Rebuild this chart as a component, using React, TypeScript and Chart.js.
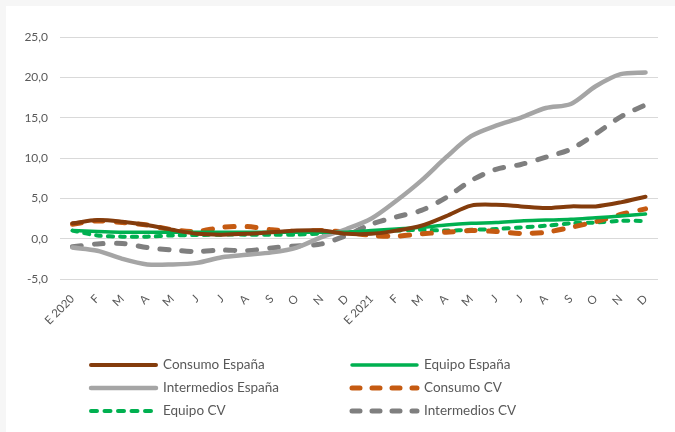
import React, { useEffect, useRef } from "react";
import { Chart, registerables } from "chart.js";

Chart.register(...registerables);

const categories = [
  "E 2020", "F", "M", "A", "M", "J", "J", "A", "S", "O", "N", "D",
  "E 2021", "F", "M", "A", "M", "J", "J", "A", "S", "O", "N", "D",
];

const consumoEspana = [1.9, 2.3, 2.1, 1.7, 1.1, 0.6, 0.5, 0.6, 0.8, 1.0, 1.0, 0.6, 0.6, 1.0, 1.6, 2.8, 4.1, 4.2, 4.0, 3.8, 4.0, 4.0, 4.5, 5.2];
const equipoEspana = [1.0, 0.9, 0.8, 0.8, 0.8, 0.8, 0.8, 0.8, 0.8, 0.8, 0.8, 0.8, 1.0, 1.2, 1.4, 1.7, 1.9, 2.0, 2.2, 2.3, 2.4, 2.6, 2.8, 3.05];
const intermediosEspana = [-1.1, -1.5, -2.5, -3.2, -3.2, -3.0, -2.3, -2.0, -1.7, -1.1, 0.2, 1.2, 2.5, 4.7, 7.2, 10.1, 12.7, 14.0, 15.0, 16.2, 16.7, 18.9, 20.4, 20.6];
const consumoCV = [1.8, 2.2, 2.0, 1.7, 1.1, 0.9, 1.4, 1.5, 1.1, 0.9, 1.0, 0.8, 0.4, 0.3, 0.6, 0.8, 1.0, 0.9, 0.65, 0.8, 1.4, 2.1, 3.0, 3.7];
const equipoCV = [1.0, 0.4, 0.25, 0.25, 0.4, 0.45, 0.5, 0.5, 0.5, 0.5, 0.65, 0.8, 0.9, 1.0, 1.1, 1.0, 1.1, 1.2, 1.4, 1.6, 1.9, 2.0, 2.2, 2.2];
const intermediosCV = [-1.0, -0.65, -0.6, -1.1, -1.4, -1.6, -1.4, -1.5, -1.15, -0.9, -0.65, 0.4, 1.8, 2.7, 3.5, 5.1, 7.2, 8.6, 9.2, 10.1, 11.1, 13.0, 15.1, 16.6];

const TEXT = "#595959";
const FONT = "Lato";

const legendCols = [91, 352];
const legendRows = [365, 388, 411];

const legendPlugin = {
  id: "customLegend",
  afterDraw(chart: any) {
    const ctx = chart.ctx;
    chart.data.datasets.forEach((ds: any, i: number) => {
      const x0 = legendCols[i % 2];
      const y = legendRows[Math.floor(i / 2)];
      ctx.save();
      ctx.strokeStyle = ds.borderColor;
      ctx.lineWidth = ds.legendWidth;
      ctx.lineCap = "round";
      ctx.setLineDash(ds.legendDash);
      ctx.beginPath();
      ctx.moveTo(x0, y);
      ctx.lineTo(x0 + 65, y);
      ctx.stroke();
      ctx.setLineDash([]);
      ctx.fillStyle = TEXT;
      ctx.font = `13.5px ${FONT}`;
      ctx.textBaseline = "middle";
      ctx.textAlign = "left";
      ctx.fillText(ds.label, x0 + 72, y);
      ctx.restore();
    });
  },
};

export default function App() {
  const ref = useRef<HTMLCanvasElement>(null);

  useEffect(() => {
    const mk = (label: string, data: number[], color: string, width: number, dash: number[], legendDash: number[]) => ({
      label,
      data,
      borderColor: color,
      backgroundColor: color,
      borderWidth: width,
      borderDash: dash,
      borderCapStyle: "round",
      borderJoinStyle: "round",
      pointRadius: 0,
      tension: 0.3,
      fill: false,
      legendDash,
      legendWidth: width,
    });
    const chart = new Chart(ref.current!, {
      type: "line",
      data: {
        labels: categories,
        datasets: [
          mk("Consumo España", consumoEspana, "#843C0C", 4, [], []),
          mk("Equipo España", equipoEspana, "#00B050", 3.5, [], []),
          mk("Intermedios España", intermediosEspana, "#A5A5A5", 4.5, [], []),
          mk("Consumo CV", consumoCV, "#C55A11", 5, [9, 13], [8, 12]),
          mk("Equipo CV", equipoCV, "#00B050", 4, [5, 7], [6, 7.5]),
          mk("Intermedios CV", intermediosCV, "#7F7F7F", 5, [9, 13], [8, 12]),
        ] as any,
      },
      options: {
        animation: false,
        responsive: false,
        devicePixelRatio: 1,
        layout: { padding: { left: 0, top: 37, right: 17, bottom: 0 } },
        plugins: { legend: { display: false }, tooltip: { enabled: false } },
        scales: {
          x: {
            offset: true,
            grid: { display: false },
            border: { display: false },
            ticks: {
              autoSkip: false,
              minRotation: 45,
              maxRotation: 45,
              padding: 5,
              color: TEXT,
              font: { family: FONT, size: 11.5 },
            },
            afterFit: (s: any) => {
              s.height = 153;
            },
          },
          y: {
            min: -5,
            max: 25,
            grid: { color: "#D9D9D9", lineWidth: 1, drawTicks: false },
            border: { display: false },
            ticks: {
              stepSize: 5,
              padding: 12,
              color: TEXT,
              font: { family: FONT, size: 12 },
              callback: (v: any) => Number(v).toFixed(1).replace(".", ","),
            },
            afterFit: (s: any) => {
              s.width = 60;
            },
          },
        },
      },
      plugins: [legendPlugin],
    });
    return () => chart.destroy();
  }, []);

  return (
    <div style={{ position: "fixed", left: 0, top: 0, width: 675, height: 432, background: "#F6F6F6" }}>
      <div style={{ position: "absolute", left: 6, top: 6, right: 0, bottom: 0, background: "#FFFFFF" }} />
      <canvas
        ref={ref}
        width={675}
        height={432}
        style={{ position: "absolute", left: 0, top: 0, width: 675, height: 432 }}
      />
    </div>
  );
}
